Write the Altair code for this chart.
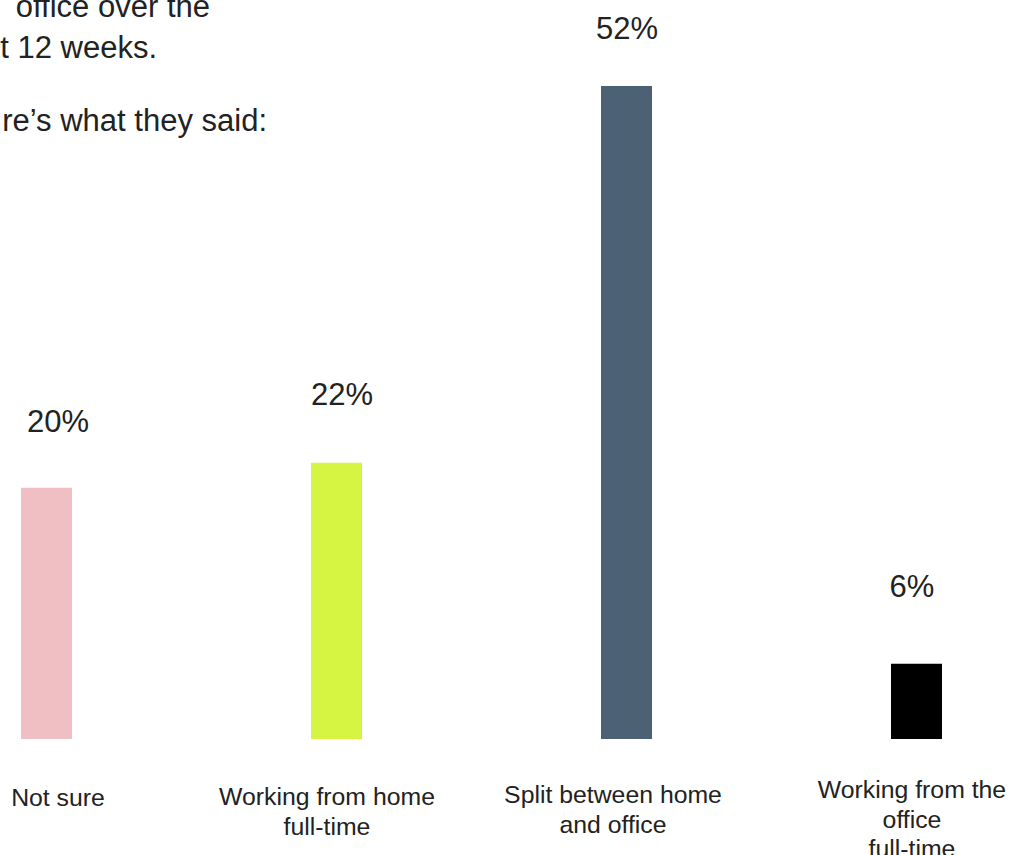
import altair as alt
import pandas as pd

# ---- data ----
categories = [
    "Not sure",
    "Working from home\nfull-time",
    "Split between home\nand office",
    "Working from the\noffice\nfull-time",
]
values = [20, 22, 52, 6]
value_labels = ["20%", "22%", "52%", "6%"]
bar_colors = ["#F0BFC4", "#D5F542", "#4D6175", "#000000"]
intro_lines = ["office over the", "t 12 weeks.", "re\u2019s what they said:"]

# ---- style (offsets per column, not data) ----
pct_dx = [11.5, 5.5, 0.5, -4.5]
pct_dy = [-56, -58, -47, -67]
lab_dx = [11.5, -9.5, -13.5, -4.5]
lab_y = [806, 805, 803, 798]
intro_pos = [(210, 17), (157, 58), (267, 131)]

FONT = "Liberation Sans"
TXT = "#222222"

df = pd.DataFrame({"category": categories, "value": values, "label": value_labels})

x_enc = alt.X(
    "category:N",
    scale=alt.Scale(domain=categories, paddingInner=0.8241, paddingOuter=0.0724),
    axis=None,
)
y_scale = alt.Scale(domain=[0, 58.85], nice=False, zero=True)

base = alt.Chart(df)

bars = base.mark_bar().encode(
    x=x_enc,
    y=alt.Y("value:Q", scale=y_scale, axis=None),
    color=alt.Color(
        "category:N",
        scale=alt.Scale(domain=categories, range=bar_colors),
        legend=None,
    ),
)

layers = [bars]
for i, c in enumerate(categories):
    pct = base.transform_filter(alt.datum.category == c).mark_text(
        font=FONT, fontSize=31, color=TXT, align="center", baseline="alphabetic",
        dx=pct_dx[i], dy=pct_dy[i],
    ).encode(
        x=x_enc,
        y=alt.Y("value:Q", scale=y_scale, axis=None),
        text="label:N",
    )
    lab = base.transform_filter(alt.datum.category == c).mark_text(
        font=FONT, fontSize=24.8, color=TXT, align="center", baseline="alphabetic",
        lineBreak="\n", lineHeight=29.5, dx=lab_dx[i],
    ).encode(
        x=x_enc,
        y=alt.value(lab_y[i]),
        text="category:N",
    )
    layers += [pct, lab]

intro_df = pd.DataFrame({"line": intro_lines})
for i, line in enumerate(intro_lines):
    t = alt.Chart(intro_df).transform_filter(alt.datum.line == line).mark_text(
        font=FONT, fontSize=31, color=TXT, align="right", baseline="alphabetic",
    ).encode(
        x=alt.value(intro_pos[i][0]),
        y=alt.value(intro_pos[i][1]),
        text="line:N",
    )
    layers.append(t)

chart = alt.layer(*layers).properties(
    width=963,
    height=739,
    padding={"left": 0, "top": 0, "right": 48, "bottom": 116},
    autosize=alt.AutoSizeParams(type="none"),
    background="white",
).configure_view(stroke=None)

chart.save("out.html", embed_options={"renderer": "svg", "actions": False})
